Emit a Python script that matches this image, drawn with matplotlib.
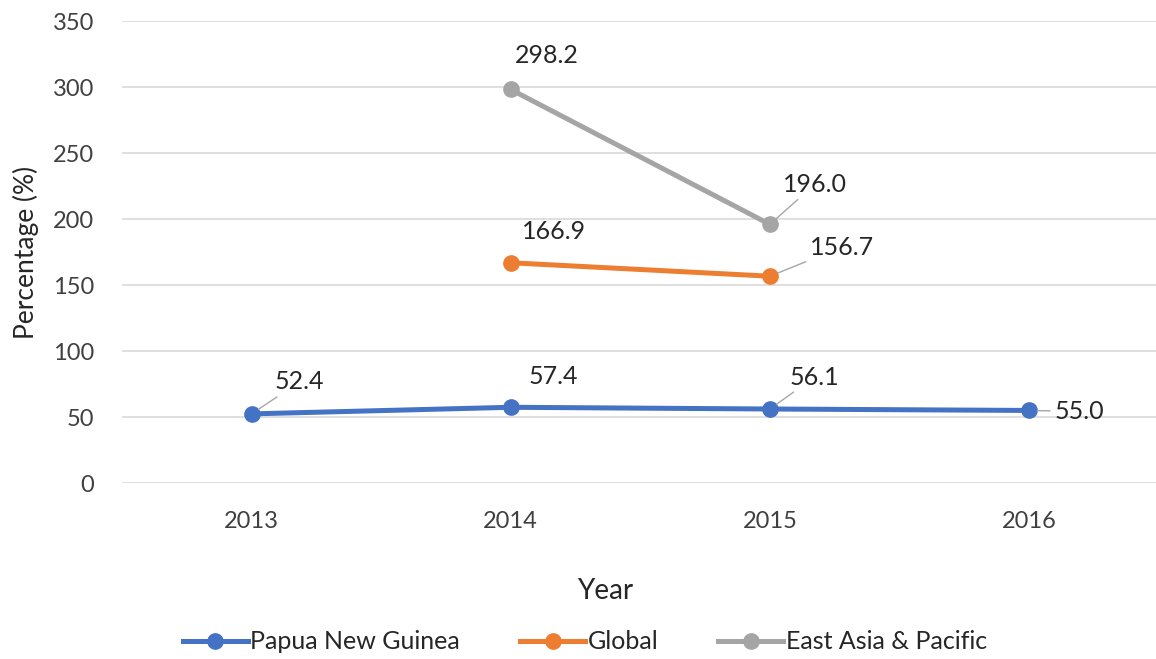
import matplotlib.pyplot as plt

plt.rcParams['font.family'] = ['Lato', 'DejaVu Sans']

years = ['2013', '2014', '2015', '2016']
png = [52.4, 57.4, 56.1, 55.0]
glob_x = [1, 2]
glob = [166.9, 156.7]
eap_x = [1, 2]
eap = [298.2, 196.0]

blue = '#4472C4'
orange = '#ED7D31'
grey = '#A5A5A5'

fig = plt.figure(figsize=(11.56, 6.59), dpi=100)
ax = fig.add_axes([0.1055, 0.267, 0.8945, 0.701])

ax.plot(range(len(years)), png, color=blue, lw=3.6, marker='o', ms=11, label='Papua New Guinea')
ax.plot(glob_x, glob, color=orange, lw=3.6, marker='o', ms=11, label='Global')
ax.plot(eap_x, eap, color=grey, lw=3.6, marker='o', ms=11, label='East Asia & Pacific')

# label offsets in pixels (text centre) and leader line
labels = [
    (0, 52.4, (48, 32), True),
    (1, 57.4, (43, 31), False),
    (2, 56.1, (45, 32), True),
    (3, 55.0, (50, -1), True),
    (1, 166.9, (43, 31), False),
    (2, 156.7, (72, 29), True),
    (1, 298.2, (36, 34), False),
    (2, 196.0, (45, 40), True),
]
for x, y, off, leader in labels:
    ax.annotate(f'{y:.1f}', (x, y), xytext=off, textcoords='offset pixels',
                ha='center', va='center', fontsize=18, color='#262626',
                arrowprops=dict(arrowstyle='-', color='#A6A6A6', lw=1,
                                shrinkA=1, shrinkB=6) if leader else None)

ax.set_xlim(-0.5, 3.49)
ax.set_ylim(0, 350)
ax.set_yticks(range(0, 351, 50))
ax.set_xticks(range(len(years)))
ax.set_xticklabels(years)
ax.grid(axis='y', color='#D9D9D9', lw=1.2)
ax.set_axisbelow(True)
ax.tick_params(length=0, labelsize=17, colors='#404040')
ax.tick_params(axis='x', pad=20)
ax.tick_params(axis='y', pad=20)
for s in ax.spines.values():
    s.set_visible(False)

ax.set_xlabel('Year', fontsize=20, color='#262626')
ax.xaxis.set_label_coords(0.467, -0.205)
ax.set_ylabel('Percentage (%)', fontsize=19, color='#262626', labelpad=10)

fig.legend(loc='center', bbox_to_anchor=(0.506, 0.026), ncol=3, frameon=False,
           fontsize=18, handlelength=2.6, columnspacing=2.4, handletextpad=0.1,
           labelcolor='#262626')

fig.savefig('out.png', dpi=100)
